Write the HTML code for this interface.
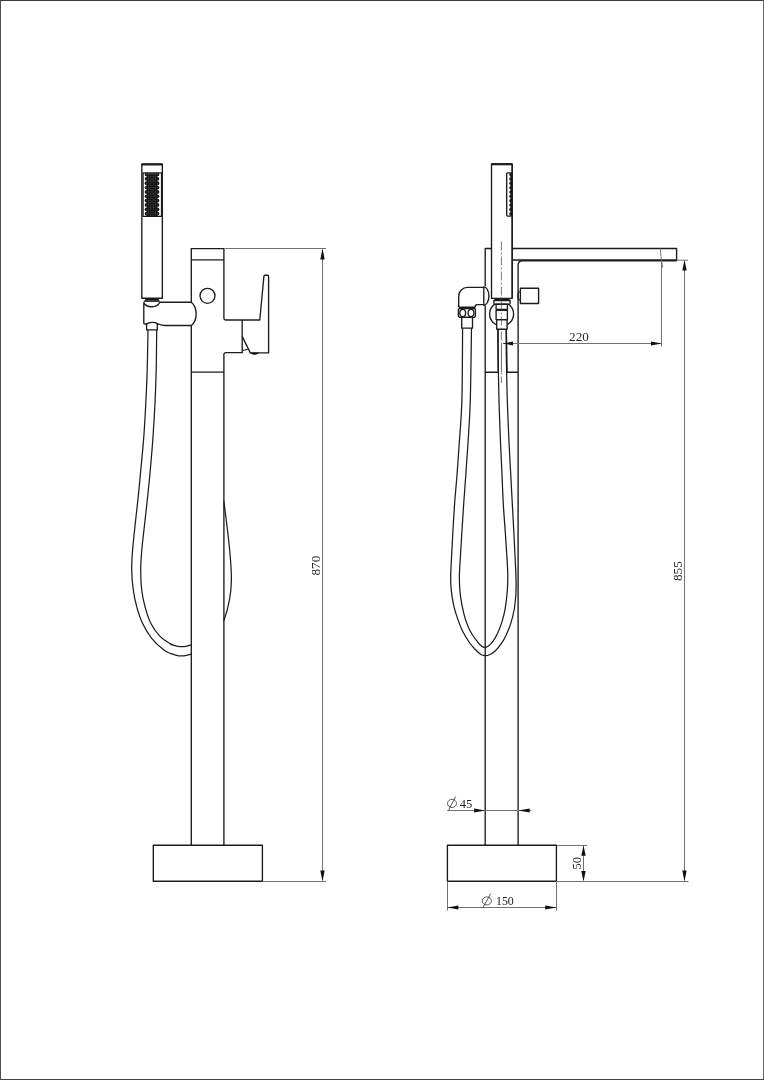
<!DOCTYPE html>
<html><head><meta charset="utf-8">
<style>
html,body{margin:0;padding:0;background:#fff;}
body{width:764px;height:1080px;overflow:hidden;position:relative;font-family:"Liberation Serif",serif;}
svg{position:absolute;left:0;top:0;display:block;filter:grayscale(1);}
.m{fill:none;stroke:#1c1c1c;stroke-width:1.35;stroke-linejoin:round;stroke-linecap:butt;}
.mf{fill:#fff;stroke:#1c1c1c;stroke-width:1.35;stroke-linejoin:round;}
.t{fill:none;stroke:#727272;stroke-width:1;}
.h{fill:none;stroke:#1c1c1c;stroke-width:1.25;}
.k{fill:none;stroke:#1c1c1c;stroke-width:2.2;}
.a{fill:#111;stroke:none;}
.s{fill:none;stroke:#333;stroke-width:0.8;}
text{font-family:"Liberation Serif",serif;font-size:13.1px;fill:#262626;}
</style></head><body>
<svg width="764" height="1080" viewBox="0 0 764 1080">
<rect x="0" y="0" width="764" height="1080" fill="#fff"/>
<!-- frame -->
<rect x="0" y="0" width="1" height="1080" fill="#505050"/>
<rect x="0" y="0" width="764" height="1" fill="#3c3c3c"/>
<rect x="763" y="0" width="1" height="1080" fill="#686868"/>
<rect x="0" y="1079" width="764" height="1" fill="#444"/>

<!-- ================= LEFT VIEW ================= -->
<path class="m" d="M191.3 302.3V248.6H223.9V318.2Q223.9 320 225.7 320H259.8L263.9 276.2Q264 275.2 265 275.2H267.6Q268.6 275.2 268.6 276.2V352.9H250.3L242.2 336.4"/>
<path class="m" d="M191.3 259.9H223.9"/>
<path class="m" d="M242.2 320V352.6"/><path class="h" d="M242.2 350.5Q245.5 350.3 247.6 349"/>
<path class="m" d="M242.8 352.6H225.9Q223.9 352.6 223.9 354.6V845.2"/>
<path class="m" d="M191.3 325.5V845.2"/>
<path class="m" d="M191.3 372.1H223.9"/>
<path d="M250.4 352.9H258.6Q254.5 356 250.4 352.9Z" fill="#111" stroke="#111" stroke-width="0.6"/>
<circle class="m" cx="207.5" cy="295.8" r="7.5"/>
<path class="h" d="M223.9 501C226 520 231.6 555 231.4 580C231.2 600 227 612 223.9 620.5"/>
<rect class="m" x="153.3" y="845.2" width="109.1" height="36"/>
<!-- hand shower -->
<path class="m" d="M141.8 298.2V164.2H162.35V298.2Z"/>
<path class="k" d="M141.7 164.4H162.3"/>
<rect class="m" x="143.05" y="172.8" width="18.5" height="43.5"/>
<clipPath id="c1"><rect x="143.3" y="172.8" width="18.3" height="43.5"/></clipPath><g clip-path="url(#c1)"><g fill="#161616"><circle cx="146.55" cy="174.50" r="1.85"/><circle cx="150.20" cy="174.50" r="1.85"/><circle cx="153.85" cy="174.50" r="1.85"/><circle cx="157.50" cy="174.50" r="1.85"/><circle cx="148.40" cy="176.68" r="1.85"/><circle cx="152.05" cy="176.68" r="1.85"/><circle cx="155.70" cy="176.68" r="1.85"/><circle cx="146.55" cy="178.85" r="1.85"/><circle cx="150.20" cy="178.85" r="1.85"/><circle cx="153.85" cy="178.85" r="1.85"/><circle cx="157.50" cy="178.85" r="1.85"/><circle cx="148.40" cy="181.03" r="1.85"/><circle cx="152.05" cy="181.03" r="1.85"/><circle cx="155.70" cy="181.03" r="1.85"/><circle cx="146.55" cy="183.20" r="1.85"/><circle cx="150.20" cy="183.20" r="1.85"/><circle cx="153.85" cy="183.20" r="1.85"/><circle cx="157.50" cy="183.20" r="1.85"/><circle cx="148.40" cy="185.38" r="1.85"/><circle cx="152.05" cy="185.38" r="1.85"/><circle cx="155.70" cy="185.38" r="1.85"/><circle cx="146.55" cy="187.55" r="1.85"/><circle cx="150.20" cy="187.55" r="1.85"/><circle cx="153.85" cy="187.55" r="1.85"/><circle cx="157.50" cy="187.55" r="1.85"/><circle cx="148.40" cy="189.73" r="1.85"/><circle cx="152.05" cy="189.73" r="1.85"/><circle cx="155.70" cy="189.73" r="1.85"/><circle cx="146.55" cy="191.90" r="1.85"/><circle cx="150.20" cy="191.90" r="1.85"/><circle cx="153.85" cy="191.90" r="1.85"/><circle cx="157.50" cy="191.90" r="1.85"/><circle cx="148.40" cy="194.08" r="1.85"/><circle cx="152.05" cy="194.08" r="1.85"/><circle cx="155.70" cy="194.08" r="1.85"/><circle cx="146.55" cy="196.25" r="1.85"/><circle cx="150.20" cy="196.25" r="1.85"/><circle cx="153.85" cy="196.25" r="1.85"/><circle cx="157.50" cy="196.25" r="1.85"/><circle cx="148.40" cy="198.43" r="1.85"/><circle cx="152.05" cy="198.43" r="1.85"/><circle cx="155.70" cy="198.43" r="1.85"/><circle cx="146.55" cy="200.60" r="1.85"/><circle cx="150.20" cy="200.60" r="1.85"/><circle cx="153.85" cy="200.60" r="1.85"/><circle cx="157.50" cy="200.60" r="1.85"/><circle cx="148.40" cy="202.78" r="1.85"/><circle cx="152.05" cy="202.78" r="1.85"/><circle cx="155.70" cy="202.78" r="1.85"/><circle cx="146.55" cy="204.95" r="1.85"/><circle cx="150.20" cy="204.95" r="1.85"/><circle cx="153.85" cy="204.95" r="1.85"/><circle cx="157.50" cy="204.95" r="1.85"/><circle cx="148.40" cy="207.12" r="1.85"/><circle cx="152.05" cy="207.12" r="1.85"/><circle cx="155.70" cy="207.12" r="1.85"/><circle cx="146.55" cy="209.30" r="1.85"/><circle cx="150.20" cy="209.30" r="1.85"/><circle cx="153.85" cy="209.30" r="1.85"/><circle cx="157.50" cy="209.30" r="1.85"/><circle cx="148.40" cy="211.48" r="1.85"/><circle cx="152.05" cy="211.48" r="1.85"/><circle cx="155.70" cy="211.48" r="1.85"/><circle cx="146.55" cy="213.65" r="1.85"/><circle cx="150.20" cy="213.65" r="1.85"/><circle cx="153.85" cy="213.65" r="1.85"/><circle cx="157.50" cy="213.65" r="1.85"/><circle cx="148.40" cy="215.83" r="1.85"/><circle cx="152.05" cy="215.83" r="1.85"/><circle cx="155.70" cy="215.83" r="1.85"/><circle cx="146.55" cy="218.00" r="1.85"/><circle cx="150.20" cy="218.00" r="1.85"/><circle cx="153.85" cy="218.00" r="1.85"/><circle cx="157.50" cy="218.00" r="1.85"/><circle cx="148.40" cy="220.18" r="1.85"/><circle cx="152.05" cy="220.18" r="1.85"/><circle cx="155.70" cy="220.18" r="1.85"/></g><g fill="#777"><circle cx="146.55" cy="174.50" r="0.42"/><circle cx="150.20" cy="174.50" r="0.42"/><circle cx="153.85" cy="174.50" r="0.42"/><circle cx="157.50" cy="174.50" r="0.42"/><circle cx="148.40" cy="176.68" r="0.42"/><circle cx="152.05" cy="176.68" r="0.42"/><circle cx="155.70" cy="176.68" r="0.42"/><circle cx="146.55" cy="178.85" r="0.42"/><circle cx="150.20" cy="178.85" r="0.42"/><circle cx="153.85" cy="178.85" r="0.42"/><circle cx="157.50" cy="178.85" r="0.42"/><circle cx="148.40" cy="181.03" r="0.42"/><circle cx="152.05" cy="181.03" r="0.42"/><circle cx="155.70" cy="181.03" r="0.42"/><circle cx="146.55" cy="183.20" r="0.42"/><circle cx="150.20" cy="183.20" r="0.42"/><circle cx="153.85" cy="183.20" r="0.42"/><circle cx="157.50" cy="183.20" r="0.42"/><circle cx="148.40" cy="185.38" r="0.42"/><circle cx="152.05" cy="185.38" r="0.42"/><circle cx="155.70" cy="185.38" r="0.42"/><circle cx="146.55" cy="187.55" r="0.42"/><circle cx="150.20" cy="187.55" r="0.42"/><circle cx="153.85" cy="187.55" r="0.42"/><circle cx="157.50" cy="187.55" r="0.42"/><circle cx="148.40" cy="189.73" r="0.42"/><circle cx="152.05" cy="189.73" r="0.42"/><circle cx="155.70" cy="189.73" r="0.42"/><circle cx="146.55" cy="191.90" r="0.42"/><circle cx="150.20" cy="191.90" r="0.42"/><circle cx="153.85" cy="191.90" r="0.42"/><circle cx="157.50" cy="191.90" r="0.42"/><circle cx="148.40" cy="194.08" r="0.42"/><circle cx="152.05" cy="194.08" r="0.42"/><circle cx="155.70" cy="194.08" r="0.42"/><circle cx="146.55" cy="196.25" r="0.42"/><circle cx="150.20" cy="196.25" r="0.42"/><circle cx="153.85" cy="196.25" r="0.42"/><circle cx="157.50" cy="196.25" r="0.42"/><circle cx="148.40" cy="198.43" r="0.42"/><circle cx="152.05" cy="198.43" r="0.42"/><circle cx="155.70" cy="198.43" r="0.42"/><circle cx="146.55" cy="200.60" r="0.42"/><circle cx="150.20" cy="200.60" r="0.42"/><circle cx="153.85" cy="200.60" r="0.42"/><circle cx="157.50" cy="200.60" r="0.42"/><circle cx="148.40" cy="202.78" r="0.42"/><circle cx="152.05" cy="202.78" r="0.42"/><circle cx="155.70" cy="202.78" r="0.42"/><circle cx="146.55" cy="204.95" r="0.42"/><circle cx="150.20" cy="204.95" r="0.42"/><circle cx="153.85" cy="204.95" r="0.42"/><circle cx="157.50" cy="204.95" r="0.42"/><circle cx="148.40" cy="207.12" r="0.42"/><circle cx="152.05" cy="207.12" r="0.42"/><circle cx="155.70" cy="207.12" r="0.42"/><circle cx="146.55" cy="209.30" r="0.42"/><circle cx="150.20" cy="209.30" r="0.42"/><circle cx="153.85" cy="209.30" r="0.42"/><circle cx="157.50" cy="209.30" r="0.42"/><circle cx="148.40" cy="211.48" r="0.42"/><circle cx="152.05" cy="211.48" r="0.42"/><circle cx="155.70" cy="211.48" r="0.42"/><circle cx="146.55" cy="213.65" r="0.42"/><circle cx="150.20" cy="213.65" r="0.42"/><circle cx="153.85" cy="213.65" r="0.42"/><circle cx="157.50" cy="213.65" r="0.42"/><circle cx="148.40" cy="215.83" r="0.42"/><circle cx="152.05" cy="215.83" r="0.42"/><circle cx="155.70" cy="215.83" r="0.42"/><circle cx="146.55" cy="218.00" r="0.42"/><circle cx="150.20" cy="218.00" r="0.42"/><circle cx="153.85" cy="218.00" r="0.42"/><circle cx="157.50" cy="218.00" r="0.42"/><circle cx="148.40" cy="220.18" r="0.42"/><circle cx="152.05" cy="220.18" r="0.42"/><circle cx="155.70" cy="220.18" r="0.42"/></g></g>
<path class="k" d="M145 299.8H158.8" style="stroke-width:1.8"/>
<!-- holder -->
<path class="m" d="M143.8 301.2H159.8"/>
<path class="m" d="M143.8 302.6C146.5 308.2 157 308.2 159.9 302.2H191.3C197.8 307.5 197.8 320.5 191.3 325.5H165C160.5 325.5 158.5 323.8 157.3 323.6C155 321.9 148.8 321.9 146.5 324H144.8Q143.8 324 143.8 323Z"/>
<path class="m" d="M146.6 323.8V329.9H157.3V323.6"/>
<!-- hose -->
<path class="h" d="M148.00 329.90C147.87 336.58 147.57 357.82 147.20 370.00C146.83 382.18 146.37 391.88 145.80 403.00C145.23 414.12 144.63 425.53 143.80 436.70C142.97 447.87 141.70 460.28 140.80 470.00C139.90 479.72 139.32 486.12 138.40 495.00C137.48 503.88 136.27 514.13 135.30 523.30C134.33 532.47 133.20 542.22 132.60 550.00C132.00 557.78 131.58 563.33 131.70 570.00C131.82 576.67 132.47 583.88 133.30 590.00C134.13 596.12 135.17 601.15 136.70 606.70C138.23 612.25 140.00 618.03 142.50 623.30C145.00 628.57 148.23 633.92 151.70 638.30C155.17 642.68 160.08 647.03 163.30 649.60C166.52 652.17 168.47 652.67 171.00 653.70C173.53 654.73 176.08 655.48 178.50 655.80C180.92 656.12 183.35 655.90 185.50 655.60C187.65 655.30 190.42 654.27 191.40 654.00"/>
<path class="h" d="M156.70 329.90C156.62 336.58 156.48 357.82 156.20 370.00C155.92 382.18 155.53 391.88 155.00 403.00C154.47 414.12 153.78 425.53 153.00 436.70C152.22 447.87 151.20 459.95 150.30 470.00C149.40 480.05 148.53 488.12 147.60 497.00C146.67 505.88 145.67 514.47 144.70 523.30C143.73 532.13 142.47 542.22 141.80 550.00C141.13 557.78 140.72 563.33 140.70 570.00C140.68 576.67 140.98 583.88 141.70 590.00C142.42 596.12 143.48 601.15 145.00 606.70C146.52 612.25 148.30 618.35 150.80 623.30C153.30 628.25 156.80 633.02 160.00 636.40C163.20 639.78 167.50 642.05 170.00 643.60C172.50 645.15 173.25 645.18 175.00 645.70C176.75 646.22 178.67 646.60 180.50 646.70C182.33 646.80 184.18 646.62 186.00 646.30C187.82 645.98 190.50 645.05 191.40 644.80"/>
<!-- 870 dimension -->
<path class="t" d="M224.5 248.5H326"/>
<path class="t" d="M262.4 881.5H326"/>
<path class="t" d="M322.5 250V880"/>
<path class="a" d="M322.5 248.3L320.3 259.6H324.7Z"/>
<path class="a" d="M322.5 881.6L320.3 870.4H324.7Z"/>
<text transform="translate(320.3,575.5) rotate(-90)" textLength="19.8" lengthAdjust="spacingAndGlyphs">870</text>

<!-- ================= RIGHT VIEW ================= -->
<path class="m" d="M485.2 286.2V248.5H491.5"/>
<path class="m" d="M485.2 305.4V845.2"/>
<path class="m" d="M511.8 248.5H676.6V260H511.8"/>
<path class="m" d="M676.6 260.7H522.5Q518.1 260.7 518.1 265.2V845.2"/>
<path class="m" d="M485.2 372.2H497.8M507 372.2H518.1"/>
<path class="t" d="M660.4 248.5C660.6 255 661.3 258 661.5 262V346.5"/><path class="t" d="M661.6 261.5C662 263.5 662.5 265 662.4 267.5"/>
<rect class="m" x="447.4" y="845.2" width="109" height="36"/>
<circle class="m" cx="501.6" cy="314" r="12"/>
<!-- hand shower side -->
<path class="mf" d="M491.5 298.3V164H512.2V298.3Z"/>
<path class="k" d="M491.5 164.2H512.2"/>
<path class="m" d="M511.8 172.9H508.2Q506.7 172.9 506.7 173.7V215.3Q506.7 216.1 507.5 216.1H511.8"/>
<clipPath id="c2"><rect x="506.7" y="172.9" width="5.6" height="43.2"/></clipPath><g clip-path="url(#c2)" fill="#161616"><circle cx="510.85" cy="174.60" r="1.6"/><circle cx="510.85" cy="178.95" r="1.6"/><circle cx="510.85" cy="183.30" r="1.6"/><circle cx="510.85" cy="187.65" r="1.6"/><circle cx="510.85" cy="192.00" r="1.6"/><circle cx="510.85" cy="196.35" r="1.6"/><circle cx="510.85" cy="200.70" r="1.6"/><circle cx="510.85" cy="205.05" r="1.6"/><circle cx="510.85" cy="209.40" r="1.6"/><circle cx="510.85" cy="213.75" r="1.6"/><circle cx="510.85" cy="218.10" r="1.6"/><rect x="510.4" y="172.9" width="2" height="43.2"/></g>
<path class="m" d="M512.2 164V298.3"/>
<!-- connector stack -->
<path class="k" d="M494.4 299.9H509.6"/>
<path class="mf" d="M493.9 300.5H510.1V303Q510.1 304.2 508.8 304.2H495.2Q493.9 304.2 493.9 303Z"/>
<rect class="mf" x="496.1" y="304.2" width="11.3" height="5.4"/>
<path class="k" d="M496.1 309.8H507.4"/>
<rect class="mf" x="496.1" y="310.4" width="11.3" height="9.3"/>
<rect class="mf" x="496.7" y="319.7" width="10.4" height="9.5"/>
<!-- knob -->
<rect class="m" x="520.4" y="288.2" width="18.2" height="15.3"/>
<path class="m" d="M519.6 291.2C517.3 293 517.3 298.5 519.6 300.4"/>
<!-- elbow -->
<path class="m" d="M483.8 287.4H467.6C462.6 287.4 458.7 291.4 458.7 296.4V307.3"/>
<path class="m" d="M483.8 304.6H477.8Q475 304.6 475 307.4"/>
<path class="m" d="M483.8 286.8V305.2A5.1 9.2 0 0 0 483.8 286.8Z"/>
<path class="k" d="M458.8 307.6H475.2"/>
<path class="m" d="M459.4 308.5H474.4L475.4 309.5V316.3L474.4 317.3H459.4L458.4 316.3V309.5Z"/>
<ellipse class="m" cx="462.7" cy="313" rx="2.9" ry="3.6"/>
<ellipse class="m" cx="471" cy="313" rx="2.9" ry="3.6"/>
<rect class="m" x="461.7" y="317.3" width="10.8" height="10.8"/>
<!-- hose loop -->
<path class="h" d="M462.60 328.10C462.48 340.08 462.42 381.35 461.90 400.00C461.38 418.65 460.32 427.50 459.50 440.00C458.68 452.50 457.82 464.37 457.00 475.00C456.18 485.63 455.32 493.80 454.60 503.80C453.88 513.80 453.23 525.63 452.70 535.00C452.17 544.37 451.72 553.83 451.40 560.00C451.08 566.17 450.90 568.00 450.80 572.00C450.70 576.00 450.62 580.12 450.80 584.00C450.98 587.88 451.35 591.45 451.90 595.30C452.45 599.15 453.13 603.17 454.10 607.10C455.07 611.03 456.32 614.97 457.70 618.90C459.08 622.83 460.45 626.77 462.40 630.70C464.35 634.63 467.25 639.37 469.40 642.50C471.55 645.63 473.43 647.55 475.30 649.50C477.17 651.45 479.02 653.17 480.60 654.20C482.18 655.23 483.32 655.60 484.80 655.70C486.28 655.80 487.73 655.63 489.50 654.80C491.27 653.97 493.43 652.57 495.40 650.70C497.37 648.83 499.53 646.15 501.30 643.60C503.07 641.05 504.43 638.73 506.00 635.40C507.57 632.07 509.33 627.92 510.70 623.60C512.07 619.28 513.35 614.22 514.20 609.50C515.05 604.78 515.48 599.55 515.80 595.30C516.12 591.05 516.10 587.88 516.10 584.00C516.10 580.12 515.95 576.00 515.80 572.00C515.65 568.00 515.50 566.17 515.20 560.00C514.90 553.83 514.48 544.37 514.00 535.00C513.52 525.63 512.88 514.63 512.30 503.80C511.72 492.97 511.07 480.63 510.50 470.00C509.93 459.37 509.43 451.67 508.90 440.00C508.37 428.33 507.72 413.33 507.30 400.00C506.88 386.67 506.57 371.80 506.40 360.00C506.23 348.20 506.32 334.33 506.30 329.20"/>
<path class="h" d="M471.50 328.10C471.30 340.08 470.85 381.35 470.30 400.00C469.75 418.65 468.95 427.50 468.20 440.00C467.45 452.50 466.55 464.37 465.80 475.00C465.05 485.63 464.38 493.80 463.70 503.80C463.02 513.80 462.28 525.63 461.70 535.00C461.12 544.37 460.57 553.83 460.20 560.00C459.83 566.17 459.62 568.00 459.50 572.00C459.38 576.00 459.35 580.12 459.50 584.00C459.65 587.88 459.92 591.45 460.40 595.30C460.88 599.15 461.58 603.17 462.40 607.10C463.22 611.03 464.03 614.97 465.30 618.90C466.57 622.83 468.33 627.37 470.00 630.70C471.67 634.03 473.63 636.55 475.30 638.90C476.97 641.25 478.52 643.38 480.00 644.80C481.48 646.22 482.82 647.20 484.20 647.40C485.58 647.60 486.83 647.02 488.30 646.00C489.77 644.98 491.43 643.47 493.00 641.30C494.57 639.13 496.23 636.15 497.70 633.00C499.17 629.85 500.62 626.12 501.80 622.40C502.98 618.68 503.95 615.22 504.80 610.70C505.65 606.18 506.42 599.82 506.90 595.30C507.38 590.78 507.57 587.52 507.70 583.60C507.83 579.68 507.80 575.73 507.70 571.80C507.60 567.87 507.47 566.13 507.10 560.00C506.73 553.87 506.13 544.37 505.50 535.00C504.87 525.63 503.92 514.63 503.30 503.80C502.68 492.97 502.28 480.63 501.80 470.00C501.32 459.37 500.87 451.67 500.40 440.00C499.93 428.33 499.37 413.33 499.00 400.00C498.63 386.67 498.37 371.80 498.20 360.00C498.03 348.20 498.03 334.33 498.00 329.20"/>
<path class="h" d="M506.3 329.2L507 372" style="stroke-width:1.5"/><path class="h" d="M497.9 329.2L498.2 372" style="stroke-width:1.4"/>
<!-- centreline -->
<path d="M501.4 241.5V383" stroke="#444" stroke-width="0.7" stroke-dasharray="9 2 2 2" fill="none"/>
<path class="t" d="M501.5 343.5V372"/>
<!-- 220 dim -->
<path class="t" d="M503 343.5H661.5"/>
<path class="a" d="M502.6 343.5L513 341.6V345.4Z"/>
<path class="a" d="M661.7 343.5L651 341.6V345.4Z"/>
<text x="569.1" y="341.3" textLength="19.8" lengthAdjust="spacingAndGlyphs">220</text>
<!-- 855 dim -->
<path class="t" d="M677 260.2H688"/>
<path class="t" d="M556.4 881.5H688.5"/>
<path class="t" d="M684.5 261V880"/>
<path class="a" d="M684.5 260L682.3 270.6H686.7Z"/>
<path class="a" d="M684.5 881.6L682.3 870.6H686.7Z"/>
<text transform="translate(682.3,581) rotate(-90)" textLength="19.8" lengthAdjust="spacingAndGlyphs">855</text>
<!-- d45 -->
<path class="t" d="M447.2 810.5H531.2"/>
<path class="a" d="M485.3 810.5L474.1 808.5V812.5Z"/>
<path class="a" d="M518.3 810.5L529.6 808.5V812.5Z"/>
<ellipse class="s" cx="452" cy="803.4" rx="4.5" ry="4.1"/>
<path class="s" d="M448.5 810.2L455.7 796.6"/>
<text style="font-size:12.6px" x="459.7" y="808.1" textLength="12.5" lengthAdjust="spacingAndGlyphs">45</text>
<!-- 50 -->
<path class="t" d="M557 845.5H587.2"/>
<path class="t" d="M583.5 846V880"/>
<path class="a" d="M583.5 845.4L581.3 855.7H585.7Z"/>
<path class="a" d="M583.5 881.6L581.3 871H585.7Z"/>
<text transform="translate(581.1,869.5) rotate(-90)" textLength="12.6" lengthAdjust="spacingAndGlyphs">50</text>
<!-- d150 -->
<path class="t" d="M447.5 881.2V910.6M556.5 881.2V910.6"/>
<path class="t" d="M447.4 907.5H556.4"/>
<path class="a" d="M447.3 907.5L458.4 905.5V909.5Z"/>
<path class="a" d="M556.6 907.5L545.2 905.5V909.5Z"/>
<ellipse class="s" cx="486.8" cy="900.9" rx="4.6" ry="4.0"/>
<path class="s" d="M483 907.4L490.8 893.6"/>
<text style="font-size:12.6px" x="496" y="905.3" textLength="17.8" lengthAdjust="spacingAndGlyphs">150</text>
</svg>
</body></html>
